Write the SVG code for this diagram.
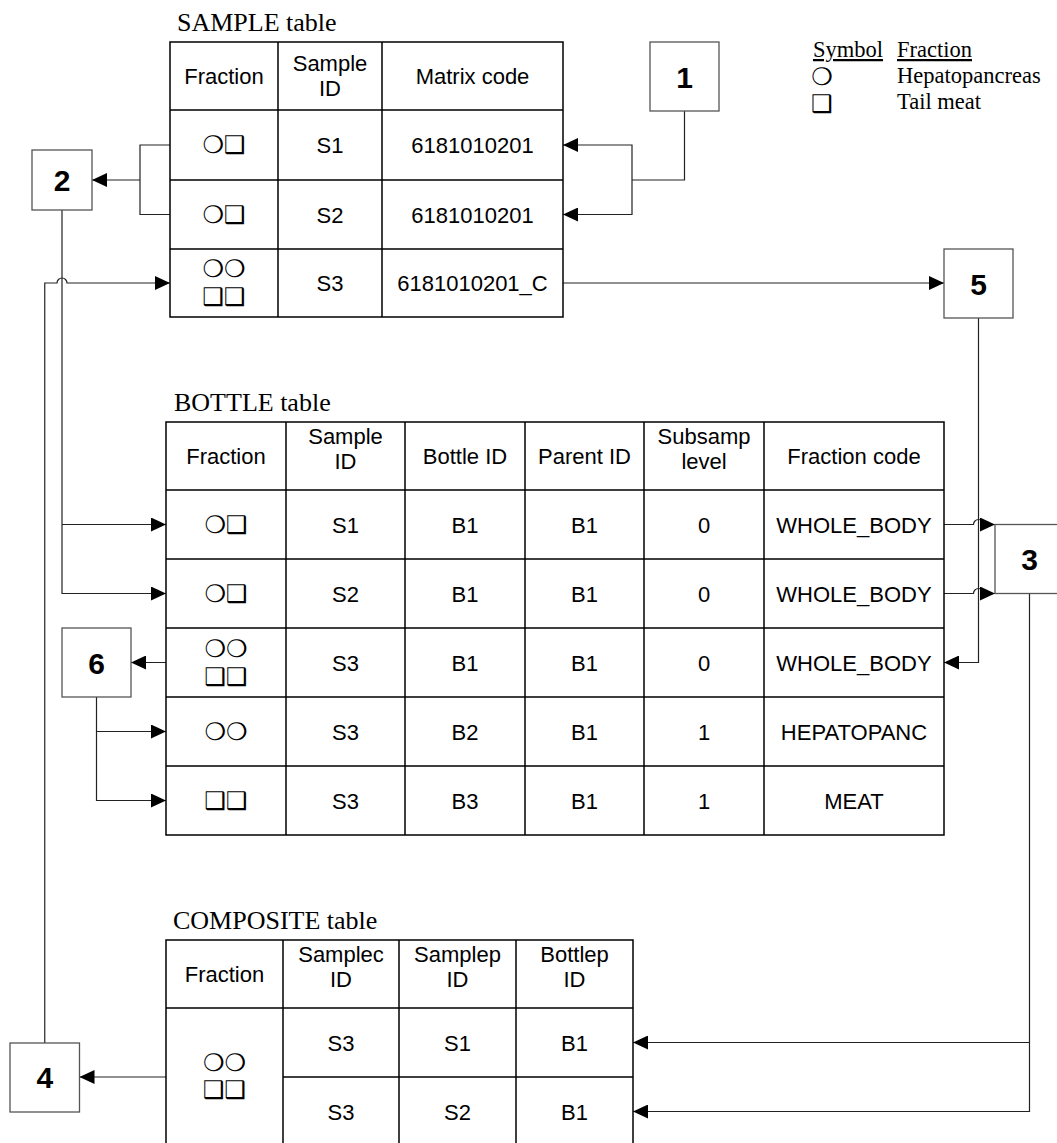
<svg xmlns="http://www.w3.org/2000/svg" width="1057" height="1143" viewBox="0 0 1057 1143">
<defs>
<marker id="arr" markerUnits="userSpaceOnUse" markerWidth="15" markerHeight="14" refX="15" refY="7" orient="auto">
<path d="M0,0 L15,7 L0,14 z" fill="#000"/>
</marker>
</defs>
<style>
.grid{fill:none;stroke:#000;stroke-width:1.5}
.cell{font-family:"Liberation Sans",Arial,sans-serif;font-size:22px;text-anchor:middle;fill:#000}
.lbl{font-family:"Liberation Serif","Times New Roman",serif;font-size:26px;fill:#000}
.leg{font-family:"Liberation Serif","Times New Roman",serif;font-size:22.5px;fill:#000}
.num{font-family:"Liberation Sans",Arial,sans-serif;font-size:30px;font-weight:bold;text-anchor:middle;fill:#000}
.sym{font-family:"DejaVu Sans",sans-serif;font-size:24px;text-anchor:middle;fill:#000}
.box{fill:#fff;stroke:#555;stroke-width:1.3}
.conn{fill:none;stroke:#222;stroke-width:1.2}
.arrow{marker-end:url(#arr)}
</style>
<rect width="1057" height="1143" fill="#fff"/>

<g id="connectors">
<path class="conn" d="M684.5,111 V180 H632"/>
<path class="conn arrow" d="M632,180 V145 H563"/>
<path class="conn arrow" d="M632,180 V214.5 H563"/>
<path class="conn" d="M170,145 H140 V214.5 H170"/>
<path class="conn arrow" d="M140,180 H92"/>
<path class="conn arrow" d="M62,210 V593.5 H166"/>
<path class="conn arrow" d="M62,524.5 H166"/>
<path class="conn arrow" d="M44.75,1043 V283 H57 a5,5 0 0 1 10,0 H170"/>
<path class="conn arrow" d="M563,283 H944"/>
<path class="conn arrow" d="M978.5,318 V662.5 H944"/>
<path class="conn arrow" d="M944,524.5 H973.5 a5,5 0 0 1 10,0 H995"/>
<path class="conn arrow" d="M944,593.5 H973.5 a5,5 0 0 1 10,0 H995"/>
<path class="conn arrow" d="M1029.5,593.5 V1111.5 H633"/>
<path class="conn arrow" d="M1029.5,1042.5 H633"/>
<path class="conn arrow" d="M166,662.5 H131"/>
<path class="conn arrow" d="M96.5,697 V800.5 H166"/>
<path class="conn arrow" d="M96.5,731.5 H166"/>
<path class="conn arrow" d="M166,1077 H79.5"/>
</g>

<g id="sample-table">
<text class="lbl" x="177" y="31">SAMPLE table</text>
<rect class="grid" x="170" y="42" width="393" height="275"/>
<path class="grid" d="M170,110 H563 M170,180 H563 M170,249 H563 M278,42 V317 M382,42 V317"/>
<text class="cell" x="224" y="84">Fraction</text>
<text class="cell" x="330" y="71">Sample</text>
<text class="cell" x="330" y="96">ID</text>
<text class="cell" x="472.5" y="84">Matrix code</text>
<text class="sym" x="224" y="153">❍❑</text>
<text class="cell" x="330" y="153">S1</text>
<text class="cell" x="472.5" y="153">6181010201</text>
<text class="sym" x="224" y="222.5">❍❑</text>
<text class="cell" x="330" y="222.5">S2</text>
<text class="cell" x="472.5" y="222.5">6181010201</text>
<text class="sym" x="224" y="277">❍❍</text>
<text class="sym" x="224" y="305">❑❑</text>
<text class="cell" x="330" y="291">S3</text>
<text class="cell" x="472.5" y="291">6181010201_C</text>
</g>

<g id="bottle-table">
<text class="lbl" x="174" y="411">BOTTLE table</text>
<rect class="grid" x="166" y="422" width="778" height="413"/>
<path class="grid" d="M166,490 H944 M166,559 H944 M166,628 H944 M166,697 H944 M166,766 H944 M286,422 V835 M405,422 V835 M525,422 V835 M644,422 V835 M764,422 V835"/>
<text class="cell" x="226" y="464">Fraction</text>
<text class="cell" x="345.5" y="444">Sample</text>
<text class="cell" x="345.5" y="469">ID</text>
<text class="cell" x="465" y="464">Bottle ID</text>
<text class="cell" x="584.5" y="464">Parent ID</text>
<text class="cell" x="704" y="444">Subsamp</text>
<text class="cell" x="704" y="469">level</text>
<text class="cell" x="854" y="464">Fraction code</text>

<text class="sym" x="226" y="532.5">❍❑</text>
<text class="cell" x="345.5" y="532.5">S1</text>
<text class="cell" x="465" y="532.5">B1</text>
<text class="cell" x="584.5" y="532.5">B1</text>
<text class="cell" x="704" y="532.5">0</text>
<text class="cell" x="854" y="532.5">WHOLE_BODY</text>

<text class="sym" x="226" y="601.5">❍❑</text>
<text class="cell" x="345.5" y="601.5">S2</text>
<text class="cell" x="465" y="601.5">B1</text>
<text class="cell" x="584.5" y="601.5">B1</text>
<text class="cell" x="704" y="601.5">0</text>
<text class="cell" x="854" y="601.5">WHOLE_BODY</text>

<text class="sym" x="226" y="656.5">❍❍</text>
<text class="sym" x="226" y="684.5">❑❑</text>
<text class="cell" x="345.5" y="670.5">S3</text>
<text class="cell" x="465" y="670.5">B1</text>
<text class="cell" x="584.5" y="670.5">B1</text>
<text class="cell" x="704" y="670.5">0</text>
<text class="cell" x="854" y="670.5">WHOLE_BODY</text>

<text class="sym" x="226" y="739.5">❍❍</text>
<text class="cell" x="345.5" y="739.5">S3</text>
<text class="cell" x="465" y="739.5">B2</text>
<text class="cell" x="584.5" y="739.5">B1</text>
<text class="cell" x="704" y="739.5">1</text>
<text class="cell" x="854" y="739.5">HEPATOPANC</text>

<text class="sym" x="226" y="808.5">❑❑</text>
<text class="cell" x="345.5" y="808.5">S3</text>
<text class="cell" x="465" y="808.5">B3</text>
<text class="cell" x="584.5" y="808.5">B1</text>
<text class="cell" x="704" y="808.5">1</text>
<text class="cell" x="854" y="808.5">MEAT</text>
</g>

<g id="composite-table">
<text class="lbl" x="173" y="929">COMPOSITE table</text>
<path class="grid" d="M166,1146 V940 H633 V1146 M166,1008 H633 M283,1077 H633 M283,940 V1146 M399,940 V1146 M516,940 V1146"/>
<text class="cell" x="224.5" y="982">Fraction</text>
<text class="cell" x="341" y="962">Samplec</text>
<text class="cell" x="341" y="987">ID</text>
<text class="cell" x="457.5" y="962">Samplep</text>
<text class="cell" x="457.5" y="987">ID</text>
<text class="cell" x="574.5" y="962">Bottlep</text>
<text class="cell" x="574.5" y="987">ID</text>
<text class="sym" x="224.5" y="1071">❍❍</text>
<text class="sym" x="224.5" y="1098">❑❑</text>
<text class="cell" x="341" y="1050.5">S3</text>
<text class="cell" x="457.5" y="1050.5">S1</text>
<text class="cell" x="574.5" y="1050.5">B1</text>
<text class="cell" x="341" y="1119.5">S3</text>
<text class="cell" x="457.5" y="1119.5">S2</text>
<text class="cell" x="574.5" y="1119.5">B1</text>
</g>

<g id="box-1"><rect class="box" x="650" y="42" width="69" height="69"/><text class="num" x="684.5" y="87.5">1</text></g>
<g id="box-2"><rect class="box" x="32" y="150" width="60" height="60"/><text class="num" x="62" y="191">2</text></g>
<g id="box-3"><rect class="box" x="995" y="524.5" width="69" height="69"/><text class="num" x="1029.5" y="570">3</text></g>
<g id="box-4"><rect class="box" x="10" y="1043" width="69.5" height="69"/><text class="num" x="44.75" y="1088">4</text></g>
<g id="box-5"><rect class="box" x="944" y="249" width="69" height="69"/><text class="num" x="978.5" y="294.5">5</text></g>
<g id="box-6"><rect class="box" x="62" y="628" width="69" height="69"/><text class="num" x="96.5" y="673.5">6</text></g>

<g id="legend">
<text class="leg" x="813" y="57" text-decoration="underline">Symbol</text>
<text class="leg" x="897" y="57" text-decoration="underline">Fraction</text>
<text class="sym" x="822" y="85">❍</text>
<text class="leg" x="897" y="83">Hepatopancreas</text>
<text class="sym" x="822" y="112">❑</text>
<text class="leg" x="897" y="109">Tail meat</text>
</g>
</svg>
